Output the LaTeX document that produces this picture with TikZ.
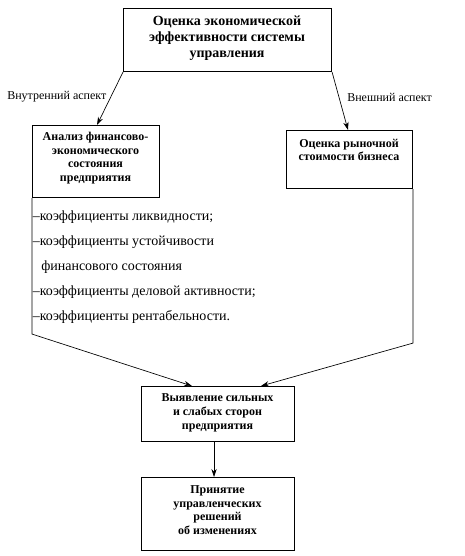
\documentclass[tikz,border=0pt]{standalone}
\usepackage{fontspec}
\setmainfont{Liberation Serif}
\usetikzlibrary{arrows.meta,calc}
\begin{document}
\begin{tikzpicture}[x=0.75pt,y=-0.75pt,
  box/.style={draw,line width=0.8pt,inner sep=0pt},
  btxt/.style={font=\bfseries\fontsize{9}{10.3}\selectfont,align=center,inner sep=0pt},
  ttxt/.style={font=\bfseries\fontsize{10.5}{12}\selectfont,align=center,inner sep=0pt},
  ltxt/.style={font=\fontsize{10.5}{12}\selectfont,inner sep=0pt,anchor=base west},
  lab/.style={font=\fontsize{9}{10}\selectfont,inner sep=0pt},
  conn/.style={line width=0.5pt},
  arr/.style={line width=0.5pt,-{Stealth[length=6pt,width=4pt]}}
]
\useasboundingbox (0,0) rectangle (464,556);
% boxes
\node[box,minimum width=208*0.75pt,minimum height=63*0.75pt,anchor=north west] (top) at (123,8) {};
\node[box,minimum width=127*0.75pt,minimum height=72*0.75pt,anchor=north west] (lb) at (32,125) {};
\node[box,minimum width=126*0.75pt,minimum height=58*0.75pt,anchor=north west] (rb) at (286,130) {};
\node[box,minimum width=153*0.75pt,minimum height=55*0.75pt,anchor=north west] (b3) at (141,386) {};
\node[box,minimum width=153*0.75pt,minimum height=73*0.75pt,anchor=north west] (b4) at (141,477) {};
% box texts
\node[ttxt] (toptxt) at (227,38) {Оценка экономической\\эффективности системы\\управления};
\node[btxt] (lbtxt) at (95.5,158) {Анализ финансово-\\экономического\\состояния\\предприятия};
\node[btxt] (rbtxt) at (349,150) {Оценка рыночной\\стоимости бизнеса};
\node[btxt] (b3txt) at (217.5,413) {Выявление сильных\\и слабых сторон\\предприятия};
\node[btxt] (b4txt) at (217.5,510) {Принятие\\управленческих\\решений\\об изменениях};
% labels
\node[lab,anchor=west] (lin) at (7,97) {Внутренний аспект};
\node[lab,anchor=west] (lout) at (347,97) {Внешний аспект};
% list
\node[ltxt] (l1) at (32.5,220) {–коэффициенты ликвидности;};
\node[ltxt] (l2) at (32.5,245) {–коэффициенты устойчивости};
\node[ltxt] (l3) at (41,270) {финансового состояния};
\node[ltxt] (l4) at (32.5,295) {–коэффициенты деловой активности;};
\node[ltxt] (l5) at (32.5,320) {–коэффициенты рентабельности.};
% connector points
\coordinate (lbin) at ($(lb.north west)+(65,0)$);
\coordinate (rbin) at ($(rb.north west)+(62,0)$);
\coordinate (lbend) at ($(lb.south west)+(0,136)$);
\coordinate (rbend) at ($(rb.south east)+(0,154)$);
\coordinate (b3l) at ($(b3.north west)+(51,0)$);
\coordinate (b3r) at ($(b3.north west)+(120,0)$);
\coordinate (b3s) at ($(b3.south)+(-4,0)$);
\coordinate (b4n) at ($(b4.north)+(-4,0)$);
% connectors
\draw[arr] (top.south west) -- (lbin);
\draw[arr] (top.south east) -- (rbin);
\draw[arr] (lb.south west) -- (lbend) -- (b3l);
\draw[arr] (rb.south east) -- (rbend) -- (b3r);
\draw[arr] (b3s) -- (b4n);
\end{tikzpicture}
\end{document}
